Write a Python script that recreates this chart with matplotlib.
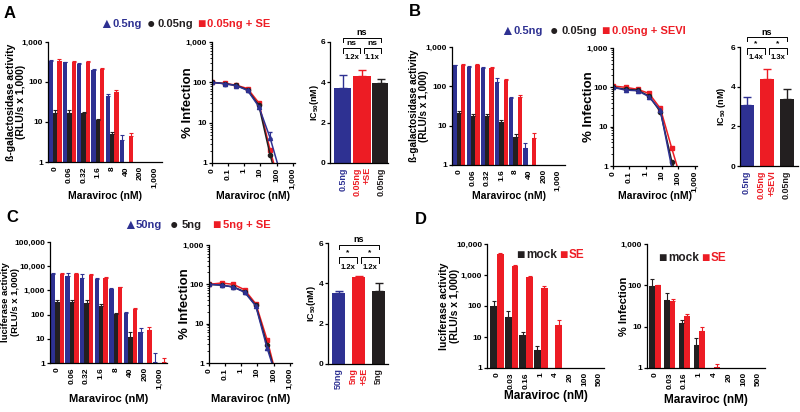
import numpy as np
import matplotlib
matplotlib.use("Agg")
import matplotlib.pyplot as plt
from matplotlib.ticker import FixedLocator, FixedFormatter, NullLocator

BLUE = "#2E3192"
RED = "#ED1C24"
BLACK = "#231F20"
nan = np.nan

plt.rcParams["font.family"] = ["Liberation Sans", "DejaVu Sans"]
plt.rcParams["font.weight"] = "bold"
plt.rcParams["axes.labelweight"] = "bold"
plt.rcParams["mathtext.fontset"] = "custom"
plt.rcParams["mathtext.bf"] = "Liberation Sans:bold"
plt.rcParams["mathtext.rm"] = "Liberation Sans:bold"
plt.rcParams["mathtext.default"] = "bf"
plt.rcParams["axes.linewidth"] = 0.9

# ---------------- data ----------------
conc_ab = ["0", "0.06", "0.32", "1.6", "8", "40", "200", "1,000"]
conc_d = ["0", "0.03", "0.16", "1", "4", "20", "100", "500"]
conc_line = [0.01, 0.06, 0.32, 1.6, 8, 40, 200]  # "0" sits on the 0.01 tick

# panel A, beta-gal
a_blue = [340, 310, 285, 200, 45, 3.6, nan, nan]
a_blue_err = [20, 10, 12, 12, 5, 1.2, 0, 0]
a_black = [17, 17, 16.5, 11, 5, nan, nan, nan]
a_black_err = [2.5, 3, 1, 1.2, 0.6, 0, 0, 0]
a_red = [330, 316, 316, 215, 55, 4.4, nan, nan]
a_red_err = [45, 20, 15, 12, 8, 1.0, 0, 0]
a_line_blue = [100, 92, 83, 63, 25, 4.2, 0.45]
a_line_red = [100, 94, 85, 70, 31, 2.1, 0.2]
a_line_black = [100, 93, 84, 65, 27, 1.6, 0.15]
a_ic_labels = ["0.5ng", "0.05ng\n+SE", "0.05ng"]
a_ic = [3.7, 4.3, 3.95]
a_ic_err = [0.65, 0.3, 0.2]
a_sig = ["ns", "ns", "ns"]
a_fold = ["1.2x", "1.1x"]

# panel B, beta-gal
b_blue = [345, 315, 295, 130, 50, 2.7, nan, nan]
b_blue_err = [10, 10, 10, 30, 5, 0.9, 0, 0]
b_black = [21, 18, 18, 12.6, 5.2, nan, nan, nan]
b_black_err = [3, 1.5, 1.5, 1.2, 1.1, 0, 0, 0]
b_red = [345, 345, 295, 145, 55, 4.9, nan, nan]
b_red_err = [30, 15, 12, 10, 5, 1.6, 0, 0]
b_line_blue = [100, 85, 82, 58, 26, 0.9, 0.1]
b_line_red = [108, 100, 89, 70, 29, 2.8, 0.3]
b_line_black = [100, 89, 85, 60, 24, 1.3, 0.15]
b_ic_labels = ["0.5ng", "0.05ng\n+SEVI", "0.05ng"]
b_ic = [3.1, 4.4, 3.4]
b_ic_err = [0.4, 0.5, 0.5]
b_sig = ["*", "*", "ns"]
b_fold = ["1.4x", "1.3x"]

# panel C, luciferase
c_blue = [4700, 3900, 3400, 3000, 1170, 113, 20, 1.05]
c_blue_err = [300, 1100, 1300, 200, 80, 20, 7, 1.45]
c_black = [340, 340, 310, 230, 107, 11.7, nan, nan]
c_black_err = [80, 80, 90, 40, 13, 8, 0, 0]
c_red = [4700, 4700, 4200, 3400, 1320, 177, 23, 1.1]
c_red_err = [300, 300, 400, 300, 100, 15, 7, 0.5]
c_line_blue = [100, 96, 85, 63, 28, 2.4, 0.3]
c_line_red = [100, 108, 100, 73, 32, 3.9, 0.3]
c_line_black = [100, 95, 86, 65, 29, 2.9, 0.3]
c_ic_labels = ["50ng", "5ng\n+SE", "5ng"]
c_ic = [3.5, 4.3, 3.6]
c_ic_err = [0.1, 0.08, 0.4]
c_sig = ["*", "*", "ns"]
c_fold = ["1.2x", "1.2x"]

# panel D
d_mock = [100, 44, 12, 3.7, nan, nan, nan, nan]
d_mock_err = [45, 23, 2, 1.5, 0, 0, 0, 0]
d_se = [4900, 2000, 840, 380, 24, nan, nan, nan]
d_se_err = [150, 150, 110, 70, 12, 0, 0, 0]
d_inf_mock = [98, 45, 12, 3.7, nan, nan, nan, nan]
d_inf_mock_err = [44, 20, 2.5, 1.5, 0, 0, 0, 0]
d_inf_se = [100, 41, 18, 7.9, 1.05, nan, nan, nan]
d_inf_se_err = [3, 6, 2.5, 1.9, 0.2, 0, 0, 0]

W, H = 800, 412
fig = plt.figure(figsize=(W / 100, H / 100), dpi=100)


def px_axes(left, top, right, bottom):
    ax = fig.add_axes([left / W, 1 - bottom / H, (right - left) / W, (bottom - top) / H])
    ax.spines["top"].set_visible(False)
    ax.spines["right"].set_visible(False)
    ax.tick_params(labelsize=6, width=0.9, length=2.5, pad=1)
    return ax


def fig_text(x, y, s, **kw):
    fig.text(x / W, 1 - y / H, s, va="center", **kw)


def log_yaxis(ax, top, labels):
    ax.set_yscale("log")
    ax.set_ylim(1, top)
    ticks = [10 ** i for i in range(len(labels))]
    ax.yaxis.set_major_locator(FixedLocator(ticks))
    ax.yaxis.set_major_formatter(FixedFormatter(labels))


def bar_panel(ax, cats, series, width, top, ylabels, ylabel, ylab_x, xlim, xlab_y,
              ylab_size=7.5, xlab_size=7.5):
    x = np.arange(len(cats))
    offs = (np.arange(len(series)) - (len(series) - 1) / 2) * width
    log_yaxis(ax, top, ylabels)
    ax.yaxis.set_minor_locator(NullLocator())
    for (vals, errs, col), o in zip(series, offs):
        vals = np.asarray(vals, float)
        ax.bar(x + o, vals, width, color=col, linewidth=0)
        ax.errorbar(x + o, vals, yerr=[np.zeros(len(vals)), errs], fmt="none",
                    ecolor=col, elinewidth=0.8, capsize=1.2, capthick=0.8)
    ax.set_xlim(*xlim)
    ax.set_xticks(x)
    ax.set_xticklabels(cats, rotation=90)
    ax.tick_params(axis="x", length=0, pad=3)
    ax.set_ylabel(ylabel, fontsize=ylab_size, linespacing=1.1)
    ax.yaxis.set_label_coords(ylab_x, 0.5)
    ax.set_xlabel("Maraviroc (nM)", fontsize=xlab_size)
    ax.xaxis.set_label_coords(0.5, xlab_y)


def line_panel(ax, blue, red, black, ylab_x, xlab_y, blue_err=None):
    ax.set_xscale("log")
    log_yaxis(ax, 1000, ["1", "10", "100", "1,000"])
    ax.set_xlim(0.01, 1400)
    ax.xaxis.set_major_locator(FixedLocator([0.01, 0.1, 1, 10, 100, 1000]))
    ax.xaxis.set_major_formatter(FixedFormatter(["0", "0.1", "1", "10", "100", "1,000"]))
    ax.tick_params(which="minor", length=1.3, width=0.6)
    for label in ax.get_xticklabels():
        label.set_rotation(90)
    ax.plot(conc_line, red, color=RED, marker="s", ms=3, lw=1.1)
    ax.plot(conc_line, black, color=BLACK, marker="o", ms=3, lw=1.1)
    ax.plot(conc_line, blue, color=BLUE, marker="^", ms=3, lw=1.1)
    if blue_err is not None:
        ax.errorbar(conc_line, blue, yerr=[np.zeros(len(blue)), blue_err], fmt="none",
                    ecolor=BLUE, elinewidth=0.8, capsize=1.2)
    ax.set_ylabel("% Infection", fontsize=9.5)
    ax.yaxis.set_label_coords(ylab_x, 0.5)
    ax.set_xlabel("Maraviroc (nM)", fontsize=7.5)
    ax.xaxis.set_label_coords(0.5, xlab_y)


def ic50_panel(ax, labels, vals, errs, sig, fold, width, xlim, ylabel, ylab_x,
               y_outer, y_inner):
    cols = [BLUE, RED, BLACK]
    x = np.arange(3)
    ax.bar(x, vals, width, color=cols, linewidth=0)
    for xi, v, e, c in zip(x, vals, errs, cols):
        ax.errorbar([xi], [v], yerr=[[0], [e]], fmt="none", ecolor=c, elinewidth=1,
                    capsize=3, capthick=1)
    ax.set_ylim(0, 6)
    ax.set_yticks([0, 2, 4, 6])
    ax.set_xlim(*xlim)
    ax.set_xticks(x)
    ax.set_xticklabels(labels, rotation=90, fontsize=6.5, va="top", ma="right")
    for t, c in zip(ax.get_xticklabels(), cols):
        t.set_color(c)
    ax.tick_params(axis="x", length=0, pad=3)
    ax.set_ylabel(ylabel, fontsize=6.5)
    ax.yaxis.set_label_coords(ylab_x, 0.5)
    kw = dict(color="black", lw=0.7, clip_on=False)
    ax.plot([0, 0, 2, 2], [y_outer - 0.2, y_outer, y_outer, y_outer - 0.2], **kw)
    ax.plot([0, 0, 0.9, 0.9], [y_inner - 0.28, y_inner, y_inner, y_inner - 0.28], **kw)
    ax.plot([1.1, 1.1, 2, 2], [y_inner - 0.28, y_inner, y_inner, y_inner - 0.28], **kw)
    tkw = dict(ha="center", va="center", clip_on=False)
    ax.text(1, y_outer + 0.25, sig[2], fontsize=6.5, **tkw)
    ax.text(0.45, y_inner + 0.22, sig[0], fontsize=6, **tkw)
    ax.text(1.55, y_inner + 0.22, sig[1], fontsize=6, **tkw)
    ax.text(0.45, y_inner - 0.5, fold[0], fontsize=5.5, **tkw)
    ax.text(1.55, y_inner - 0.5, fold[1], fontsize=5.5, **tkw)


bgal = "ß-galactosidase activity\n(RLU/s x 1,000)"
luc = "luciferase activity\n(RLU/s x 1,000)"

# ---------------- panel A ----------------
ax = px_axes(48, 42, 162, 162)
bar_panel(ax, conc_ab, [(a_blue, a_blue_err, BLUE), (a_black, a_black_err, BLACK),
                        (a_red, a_red_err, RED)], 0.3, 1000,
          ["1", "10", "100", "1,000"], bgal, -0.19, (-0.5, 7.5), -0.24)
ax = px_axes(212, 42, 295, 163)
line_panel(ax, a_line_blue, a_line_red, a_line_black, -0.22, -0.23,
           blue_err=[0, 0, 0, 0, 0, 1.7, 0])
ax = px_axes(330, 42, 388, 163)
ic50_panel(ax, a_ic_labels, a_ic, a_ic_err, a_sig, a_fold, 0.9, (-0.68, 2.37),
           r"IC$_{50}$(nM)", -0.16, 6.2, 5.72)

# ---------------- panel B ----------------
ax = px_axes(452, 47, 565, 165)
bar_panel(ax, conc_ab, [(b_blue, b_blue_err, BLUE), (b_black, b_black_err, BLACK),
                        (b_red, b_red_err, RED)], 0.3, 1000,
          ["1", "10", "100", "1,000"], bgal, -0.2, (-0.5, 7.5), -0.22, ylab_size=7.2)
ax = px_axes(613, 48, 697, 166)
line_panel(ax, b_line_blue, b_line_red, b_line_black, -0.22, -0.21)
ax = px_axes(740, 47, 798, 166)
ic50_panel(ax, b_ic_labels, b_ic, b_ic_err, b_sig, b_fold, 0.7, (-0.33, 2.57),
           r"IC$_{50}$ (nM)", -0.2, 6.5, 5.95)

# ---------------- panel C ----------------
ax = px_axes(50, 242, 167, 363)
bar_panel(ax, conc_ab, [(c_blue, c_blue_err, BLUE), (c_black, c_black_err, BLACK),
                        (c_red, c_red_err, RED)], 0.3, 100000,
          ["1", "10", "100", "1,000", "10,000", "100,000"], luc, -0.26, (-0.5, 7.5),
          -0.26, ylab_size=6.8, xlab_size=8)
ax = px_axes(209, 245, 292, 363)
line_panel(ax, c_line_blue, c_line_red, c_line_black, -0.22, -0.26)
ax.xaxis.label.set_fontsize(8)
ax = px_axes(328, 243, 388, 364)
ic50_panel(ax, c_ic_labels, c_ic, c_ic_err, c_sig, c_fold, 0.65, (-0.53, 2.47),
           r"IC$_{50}$(nM)", -0.16, 5.9, 5.3)

# ---------------- panel D ----------------
ax = px_axes(487, 244, 604, 368)
bar_panel(ax, conc_d, [(d_mock, d_mock_err, BLACK), (d_se, d_se_err, RED)], 0.46,
          10000, ["1", "10", "100", "1,000", "10,000"], luc, -0.23, (-0.68, 7.32),
          -0.175, xlab_size=8.5)
ax = px_axes(647, 244, 765, 368)
bar_panel(ax, conc_d, [(d_inf_mock, d_inf_mock_err, BLACK), (d_inf_se, d_inf_se_err, RED)],
          0.38, 1000, ["1", "10", "100", "1,000"], "% Infection", -0.15, (-0.54, 7.46),
          -0.21, ylab_size=8, xlab_size=8.5)

# ---------------- legends & letters ----------------
for s, x, y in [("A", 10, 13), ("B", 415, 11), ("C", 12, 218), ("D", 421, 219)]:
    fig_text(x, y, s, fontsize=12, ha="center")

leg_a = [("▲", 106, BLUE), ("0.5ng", 112, BLUE), ("●", 151, BLACK), ("0.05ng", 158, BLACK),
         ("■", 201, RED), ("0.05ng + SE", 207, RED)]
leg_b = [("▲", 507, BLUE), ("0.5ng", 513, BLUE), ("●", 554, BLACK), ("0.05ng", 561, BLACK),
         ("■", 605, RED), ("0.05ng + SEVI", 612, RED)]
leg_c = [("▲", 130, BLUE), ("50ng", 136, BLUE), ("●", 174, BLACK), ("5ng", 182, BLACK),
         ("■", 216, RED), ("5ng + SE", 223, RED)]
for items, y in [(leg_a, 24), (leg_b, 31), (leg_c, 225)]:
    for s, x, c in items:
        single = len(s) == 1
        fig_text(x, y, s, color=c, fontsize=10 if single else 8,
                 ha="center" if single else "left")

leg_d = [("■", 520, BLACK), ("mock", 526, BLACK), ("■", 563, RED), ("SE", 569, RED),
         ("■", 662, BLACK), ("mock", 668, BLACK), ("■", 705, RED), ("SE", 711, RED)]
for s, x, c in leg_d:
    y = 255 if x < 640 else 258
    single = len(s) == 1
    fig_text(x, y, s, color=c, fontsize=10 if single else 8.5,
             ha="center" if single else "left")

fig.savefig("out.png", dpi=100)
